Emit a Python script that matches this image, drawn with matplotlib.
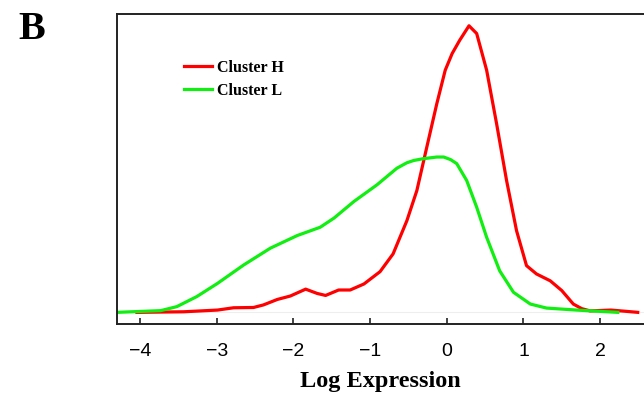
import numpy as np
import matplotlib
matplotlib.use("Agg")
import matplotlib.pyplot as plt

# density curves (peak of Cluster H scaled to 1)
h_x = [-4.04, -3.43, -2.99, -2.78, -2.52, -2.39, -2.21, -2.04, -1.84, -1.69, -1.58,
       -1.41, -1.26, -1.08, -0.87, -0.70, -0.52, -0.39, -0.26, -0.13, -0.02, 0.07,
       0.17, 0.29, 0.39, 0.52, 0.65, 0.78, 0.91, 1.04, 1.17, 1.35, 1.50, 1.65, 1.76,
       1.87, 2.14, 2.32, 2.49]
h_y = [0.0, 0.002, 0.008, 0.016, 0.017, 0.026, 0.045, 0.057, 0.081, 0.066, 0.059,
       0.078, 0.078, 0.099, 0.142, 0.204, 0.320, 0.425, 0.577, 0.728, 0.845, 0.903,
       0.950, 1.0, 0.973, 0.845, 0.658, 0.460, 0.285, 0.163, 0.134, 0.110, 0.076, 0.029,
       0.013, 0.005, 0.008, 0.004, 0.0]

l_x = [-4.30, -3.73, -3.52, -3.26, -2.99, -2.65, -2.30, -1.95, -1.65, -1.47, -1.21,
       -0.91, -0.65, -0.52, -0.43, -0.31, -0.13, -0.04, 0.05, 0.13, 0.26, 0.39, 0.52,
       0.69, 0.87, 1.09, 1.30, 1.69, 2.23]
l_y = [0.0, 0.006, 0.020, 0.055, 0.101, 0.165, 0.224, 0.268, 0.297, 0.329, 0.387,
       0.445, 0.503, 0.522, 0.530, 0.536, 0.542, 0.542, 0.533, 0.519, 0.460, 0.367, 0.262,
       0.145, 0.070, 0.029, 0.015, 0.008, 0.0]

labels = ["Cluster H", "Cluster L"]
ticks = [-4, -3, -2, -1, 0, 1, 2]

fig = plt.figure(figsize=(6.44, 3.96), dpi=100)
ax = fig.add_axes([0.1817, 0.183, 0.8183, 0.7816])

ax.axhline(0, color="#eeeeee", lw=0.8, zorder=1)
ax.plot(h_x, h_y, color="#ff0000", lw=2.3, label=labels[0], solid_joinstyle="round")
ax.plot(l_x, l_y, color="#11ee11", lw=2.3, label=labels[1], solid_joinstyle="round")

ax.set_xlim(-4.30, 2.572)
ax.set_ylim(-0.039, 1.041)
ax.set_yticks([])
ax.set_xticks(ticks)
ax.set_xticklabels([str(t).replace("-", "\u2212") for t in ticks],
                   fontsize=14, family="Liberation Sans")
ax.tick_params(axis="x", direction="in", length=4.5, width=1.2, pad=14, color="#222222")
ax.spines["right"].set_visible(False)
for s in ["left", "top", "bottom"]:
    ax.spines[s].set_linewidth(1.4)
    ax.spines[s].set_color("#222222")

ax.set_xlabel("Log Expression", fontsize=17.5, family="Liberation Serif",
              fontweight="bold", labelpad=8)

ax.legend(loc="upper left", bbox_to_anchor=(0.127, 0.852), frameon=False,
          prop={"family": "Liberation Serif", "weight": "bold", "size": 11.5},
          handlelength=1.75, handletextpad=0.35, labelspacing=0.45,
          borderpad=0, borderaxespad=0)

fig.text(0.05, 0.925, "B", fontsize=29, family="Liberation Serif",
         fontweight="bold", ha="center", va="center")

fig.savefig("out.png", dpi=100)
